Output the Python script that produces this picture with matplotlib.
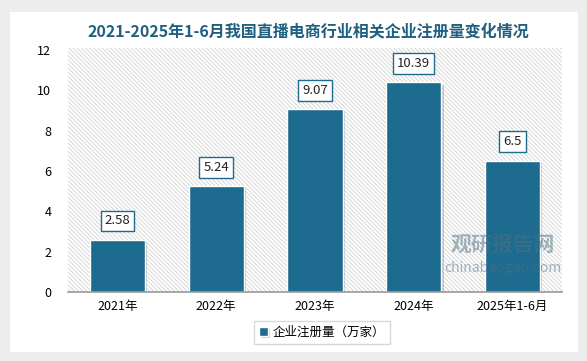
import matplotlib.pyplot as plt
import matplotlib.patheffects as pe
from matplotlib.patches import Rectangle, FancyBboxPatch

plt.rcParams['font.family'] = ['Noto Sans CJK SC', 'DejaVu Sans']
plt.rcParams['hatch.linewidth'] = 0.6

# 数据
years = ['2021年', '2022年', '2023年', '2024年', '2025年1-6月']
values = [2.58, 5.24, 9.07, 10.39, 6.5]
value_labels = ['2.58', '5.24', '9.07', '10.39', '6.5']
yticks = [0, 2, 4, 6, 8, 10, 12]

bar_color = '#1d6b8e'
title_color = '#1f5f7f'

fig = plt.figure(figsize=(5.87, 3.61), dpi=100)
fig.patch.set_facecolor('#ededed')

# 卡片背景(带阴影)
card = FancyBboxPatch((10 / 587, 1 - 352 / 361), 568 / 587, 340 / 361,
                      boxstyle='square,pad=0', transform=fig.transFigure,
                      facecolor='white', edgecolor='none', zorder=-10,
                      path_effects=[pe.SimplePatchShadow(offset=(0, 0), shadow_rgbFace='#bbbbbb', alpha=0.6), pe.Normal()])
fig.patches.append(card)

ax = fig.add_axes([68 / 587, 69 / 361, 494 / 587, 242 / 361])
ax.set_zorder(1)
ax.set_facecolor('none')

# 斜线底纹
bg = Rectangle((0, 0), 1, 1.008, transform=ax.transAxes, facecolor='white',
               edgecolor='#d0d0d0', hatch='\\' * 8, linewidth=0, zorder=0, clip_on=False)
ax.add_patch(bg)

x = range(len(years))
bars = ax.bar(x, values, width=0.56, color=bar_color, edgecolor='white', linewidth=1.0, zorder=2,
              label='企业注册量（万家）')
for b in bars:
    b.set_path_effects([pe.SimplePatchShadow(offset=(1.5, -1.5), shadow_rgbFace='#777777', alpha=0.35), pe.Normal()])

for i, v in enumerate(values):
    ax.annotate(value_labels[i], (i, v), xytext=(0, 9), textcoords='offset points',
                ha='center', va='bottom', fontsize=9.5, color='#222222', zorder=5,
                bbox=dict(boxstyle='square,pad=0.3', facecolor='white', edgecolor=bar_color, linewidth=1))

ax.set_xlim(-0.5, len(years) - 0.5)
ax.set_ylim(0, 12)
ax.set_yticks(yticks)
ax.set_xticks(list(x))
ax.set_xticklabels(years, fontsize=9)
ax.tick_params(axis='y', length=0, pad=12, labelsize=9)
ax.tick_params(axis='x', length=0, pad=6)
for s in ['left', 'right', 'top']:
    ax.spines[s].set_visible(False)
ax.spines['bottom'].set_color('#999999')
ax.spines['bottom'].set_linewidth(1.2)
ax.spines['bottom'].set_zorder(3)

fig.text(308 / 587, 1 - 31 / 361, '2021-2025年1-6月我国直播电商行业相关企业注册量变化情况',
         ha='center', va='center', fontsize=11.5, fontweight='bold', color=title_color)

# 水印
ax.text(503 / 587, 1 - 244 / 361, '观研报告网', ha='center', va='center', fontsize=15,
        fontweight='bold', color='#4f6f82', alpha=0.5, zorder=10, transform=fig.transFigure)
ax.text(503 / 587, 1 - 268 / 361, 'chinabaogao.com', ha='center', va='center', fontsize=10,
        color='#4f6f82', alpha=0.5, zorder=10, transform=fig.transFigure)

leg = fig.legend(handles=[bars], labels=['企业注册量（万家）'], loc='center',
                 bbox_to_anchor=(322 / 587, 1 - 332 / 361), fontsize=9, frameon=True,
                 fancybox=False, edgecolor='#d0d0d0', handlelength=0.7, handleheight=0.7,
                 handletextpad=0.4, borderpad=0.4)
leg.get_frame().set_linewidth(1)

plt.savefig('out.png', dpi=100, facecolor=fig.get_facecolor())
